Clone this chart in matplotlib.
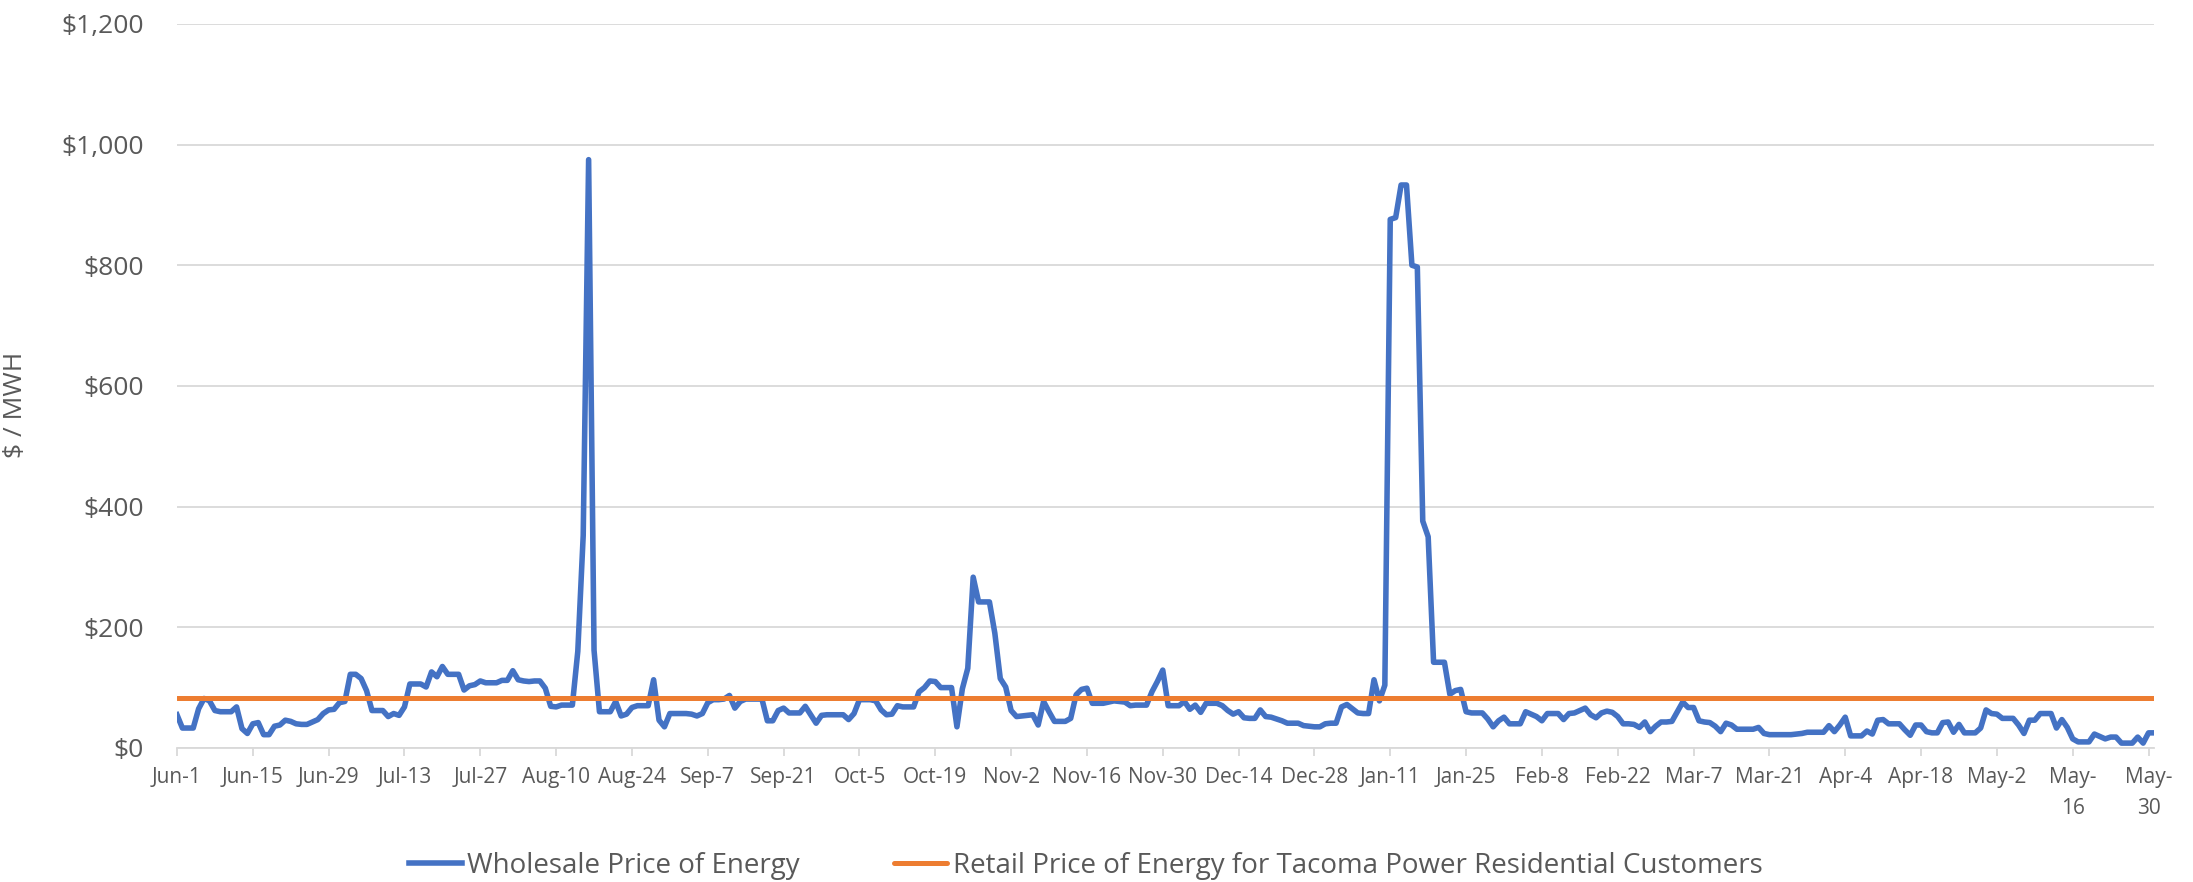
import numpy as np
import matplotlib
matplotlib.use("Agg")
import matplotlib.pyplot as plt

# daily wholesale price, $/MWh, Jun-1 .. May-31 (leap year, 366 days)
wholesale = [
    55, 33, 33, 33, 65, 82, 78, 62, 60, 60,
    60, 68, 32, 24, 40, 42, 22, 22, 36, 38,
    46, 44, 40, 39, 39, 43, 47, 57, 63, 64,
    75, 77, 122, 122, 115, 95, 62, 62, 62, 52,
    57, 54, 68, 106, 106, 106, 101, 126, 118, 135,
    122, 122, 122, 96, 103, 105, 111, 108, 108, 108,
    112, 112, 128, 113, 111, 110, 111, 111, 99, 69,
    68, 71, 71, 71, 160, 352, 975, 162, 60, 60,
    60, 77, 53, 56, 67, 70, 70, 70, 113, 46,
    35, 57, 57, 57, 57, 56, 53, 57, 75, 80,
    80, 81, 87, 66, 77, 81, 81, 81, 81, 45,
    45, 62, 66, 58, 58, 58, 69, 55, 41, 54,
    55, 55, 55, 55, 47, 57, 80, 80, 80, 78,
    63, 55, 56, 70, 68, 68, 68, 93, 100, 111,
    110, 100, 100, 100, 35, 98, 132, 283, 242, 242,
    242, 190, 115, 101, 62, 52, 53, 54, 55, 38,
    77, 60, 44, 44, 44, 49, 88, 97, 99, 74,
    74, 74, 76, 78, 77, 76, 70, 71, 71, 71,
    93, 110, 129, 70, 70, 70, 77, 64, 71, 59,
    74, 74, 74, 70, 62, 56, 60, 50, 49, 49,
    63, 52, 51, 48, 45, 41, 41, 41, 37, 36,
    35, 35, 40, 41, 41, 68, 72, 65, 58, 57,
    57, 113, 78, 104, 876, 879, 933, 933, 800, 797,
    376, 350, 142, 142, 142, 89, 95, 97, 60, 58,
    58, 58, 48, 35, 45, 51, 40, 40, 40, 60,
    56, 52, 45, 57, 57, 57, 47, 57, 58, 62,
    66, 55, 50, 58, 61, 59, 52, 40, 40, 39,
    34, 43, 27, 36, 43, 43, 44, 60, 76, 67,
    67, 45, 43, 42, 36, 27, 41, 38, 31, 31,
    31, 31, 34, 24, 22, 22, 22, 22, 22, 23,
    24, 26, 26, 26, 26, 37, 27, 38, 51, 20,
    20, 20, 28, 23, 46, 47, 40, 40, 40, 30,
    21, 38, 38, 27, 25, 25, 42, 43, 26, 39,
    25, 25, 25, 33, 63, 57, 56, 49, 49, 49,
    38, 24, 46, 46, 57, 57, 57, 33, 47, 34,
    15, 10, 10, 10, 23, 19, 15, 18, 18, 8,
    8, 8, 18, 8, 25, 25,
]
retail_price = 83

tick_labels = ["Jun-1", "Jun-15", "Jun-29", "Jul-13", "Jul-27", "Aug-10", "Aug-24",
               "Sep-7", "Sep-21", "Oct-5", "Oct-19", "Nov-2", "Nov-16", "Nov-30",
               "Dec-14", "Dec-28", "Jan-11", "Jan-25", "Feb-8", "Feb-22", "Mar-7",
               "Mar-21", "Apr-4", "Apr-18", "May-2", "May-\n16", "May-\n30"]
y_ticks = [0, 200, 400, 600, 800, 1000, 1200]

days = np.arange(len(wholesale))
retail = [retail_price] * len(wholesale)

plt.rcParams['font.family'] = ['Open Sans', 'DejaVu Sans']
text_col = "#595959"
grid_col = "#d9d9d9"

fig = plt.figure(figsize=(21.93, 8.82), dpi=100)
ax = fig.add_axes([0.0807, 0.152, 0.9015, 0.8209])

ax.plot(days, wholesale, color="#4472C4", linewidth=4.0, solid_joinstyle="round",
        label="Wholesale Price of Energy", zorder=3)
ax.plot(days, retail, color="#ED7D31", linewidth=3.6, solid_capstyle="round",
        label="Retail Price of Energy for Tacoma Power Residential Customers", zorder=4)

ax.set_xlim(0, len(wholesale) - 1)
ax.set_ylim(0, 1200)
ax.set_yticks(y_ticks)
ax.set_yticklabels(["${:,}".format(v) for v in y_ticks], fontsize=19, color=text_col)
ax.set_xticks(np.arange(len(tick_labels)) * 14)
ax.set_xticklabels(tick_labels, fontsize=15, color=text_col, linespacing=1.6, va="top")

ax.grid(axis="y", color=grid_col, linewidth=1.3)
ax.set_axisbelow(True)
for s in ["top", "right", "left"]:
    ax.spines[s].set_visible(False)
ax.spines["bottom"].set_color(grid_col)
ax.spines["bottom"].set_linewidth(1.3)
ax.tick_params(axis="y", length=0, pad=24)
ax.tick_params(axis="x", length=6, width=1.3, color=grid_col, pad=8)

ax.set_ylabel("$ / MWH", fontsize=19, color=text_col)
ax.yaxis.set_label_coords(-0.0754, 0.474)

fig.legend(loc="center", bbox_to_anchor=(0.495, 0.018), ncol=2, frameon=False,
           fontsize=20, handlelength=1.9, handletextpad=0.2, columnspacing=3.4,
           labelcolor=text_col)

fig.savefig("out.png", dpi=100)
